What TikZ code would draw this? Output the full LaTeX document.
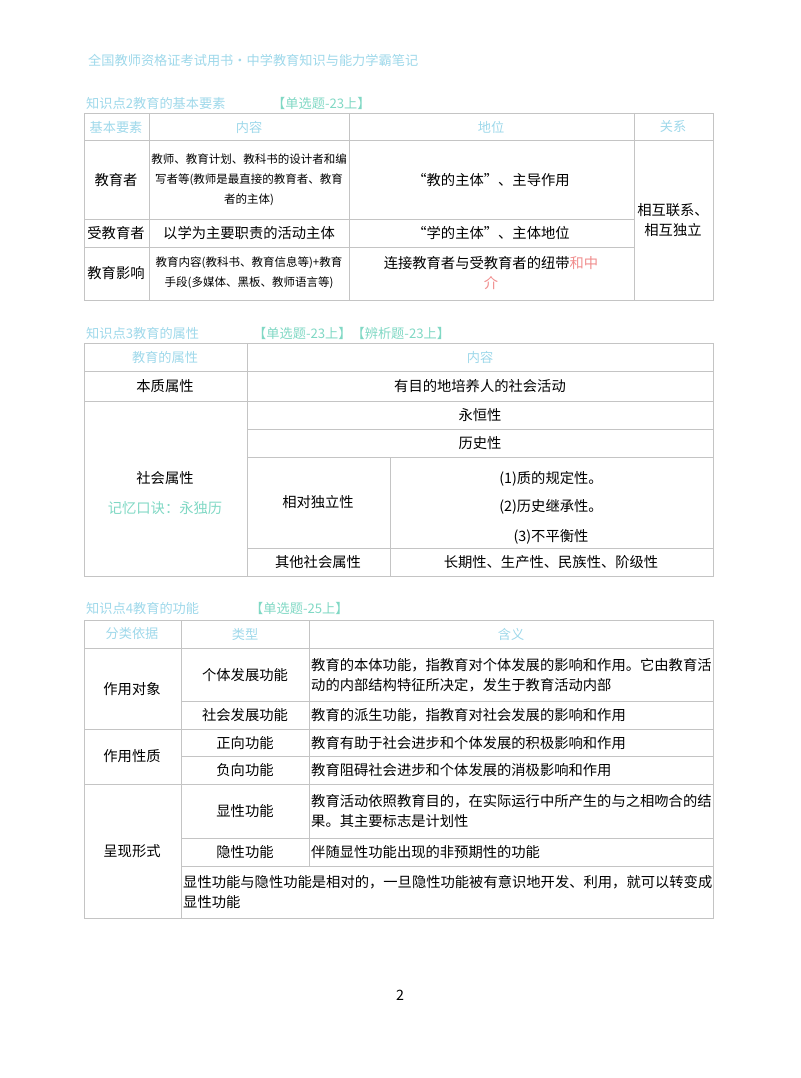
\documentclass[tikz,border=0pt]{standalone}
\usepackage{fontspec}
\setmainfont{Noto Sans CJK SC}
\usepackage{xcolor}
\definecolor{pale-blue}{HTML}{9ED8EA}
\definecolor{pale-teal}{HTML}{80D8C4}
\definecolor{rule-gray}{HTML}{C4C4C4}
\definecolor{soft-red}{HTML}{F08C8C}
\tikzset{grid/.style = {draw=rule-gray, line width=0.8pt}}
\tikzset{txt/.style = {font=\fontsize{14.3}{20}\selectfont, align=center, inner sep=0pt}}
\tikzset{narrow/.style = {font=\fontsize{11.5}{20}\selectfont, align=center, inner sep=0pt}}
\tikzset{head/.style = {font=\fontsize{13.2}{18}\selectfont, text=pale-blue, inner sep=0pt}}
\tikzset{tag/.style = {font=\fontsize{13.2}{18}\selectfont, text=pale-teal, inner sep=0pt, anchor=west}}
\tikzset{left cell/.style = {font=\fontsize{14.3}{20}\selectfont, align=left, inner sep=0pt, anchor=west}}

\begin{document}
\begin{tikzpicture}[x=1pt, y=-1pt]
\useasboundingbox (0,0) rectangle (800,1078);

\node[head, anchor=west] (top) at (88,60) {全国教师资格证考试用书·中学教育知识与能力学霸笔记};

% table 1
\node[head, anchor=west] (t1) at (86,103) {知识点2教育的基本要素};
\node[tag] (t1tag) at (272,103) {【单选题-23上】};
\draw[grid] (84,113) rectangle (713,300);
\draw[grid] (149,113) -- (149,300) (349,113) -- (349,300) (634,113) -- (634,300);
\draw[grid] (84,140) -- (713,140) (84,219) -- (634,219) (84,247) -- (634,247);
\node[head] (h11) at (116,127) {基本要素};
\node[head] (h12) at (249,127) {内容};
\node[head] (h13) at (491,127) {地位};
\node[head] (h14) at (673,127) {关系};
\node[txt] (a1) at (116,180) {教育者};
\node[narrow] (a2) at (249,180) {教师、教育计划、教科书的设计者和编\\写者等(教师是最直接的教育者、教育\\者的主体)};
\node[txt] (a3) at (491,180) {“教的主体”、主导作用};
\node[txt] (b1) at (116,233) {受教育者};
\node[txt] (b2) at (249,233) {以学为主要职责的活动主体};
\node[txt] (b3) at (491,233) {“学的主体”、主体地位};
\node[txt] (c1) at (116,273) {教育影响};
\node[narrow] (c2) at (249,273) {教育内容(教科书、教育信息等)+教育\\手段(多媒体、黑板、教师语言等)};
\node[txt] (c3) at (491,273) {连接教育者与受教育者的纽带\textcolor{soft-red}{和中}\\\textcolor{soft-red}{介}};
\node[txt] (rel) at (673,220) {相互联系、\\相互独立};

% table 2
\node[head, anchor=west] (t2) at (86,333) {知识点3教育的属性};
\node[tag] (t2tag) at (253,333) {【单选题-23上】【辨析题-23上】};
\draw[grid] (84,343) rectangle (713,576);
\draw[grid] (247,343) -- (247,576) (390,457) -- (390,576);
\draw[grid] (84,371) -- (713,371) (84,401) -- (713,401);
\draw[grid] (247,429) -- (713,429) (247,457) -- (713,457) (247,548) -- (713,548);
\node[head] (h21) at (165,357) {教育的属性};
\node[head] (h22) at (480,357) {内容};
\node[txt] (p1) at (165,386) {本质属性};
\node[txt] (p2) at (480,386) {有目的地培养人的社会活动};
\node[txt] (s1) at (165,478) {社会属性};
\node[txt, text=pale-teal] (s2) at (165,508) {记忆口诀：永独历};
\node[txt] (s3) at (480,415) {永恒性};
\node[txt] (s4) at (480,443) {历史性};
\node[txt] (s5) at (318,502) {相对独立性};
\node[txt] (s6) at (551,479) {(1)质的规定性。};
\node[txt] (s7) at (551,507) {(2)历史继承性。};
\node[txt] (s8) at (551,537) {(3)不平衡性};
\node[txt] (s9) at (318,562) {其他社会属性};
\node[txt] (s10) at (551,562) {长期性、生产性、民族性、阶级性};

% table 3
\node[head, anchor=west] (t3) at (86,608) {知识点4教育的功能};
\node[tag] (t3tag) at (250,608) {【单选题-25上】};
\draw[grid] (84,620) rectangle (713,918);
\draw[grid] (181,620) -- (181,918) (309,620) -- (309,866);
\draw[grid] (84,648) -- (713,648) (181,701) -- (713,701) (84,729) -- (713,729);
\draw[grid] (181,756) -- (713,756) (84,784) -- (713,784) (181,838) -- (713,838) (181,866) -- (713,866);
\node[head] (h31) at (132,634) {分类依据};
\node[head] (h32) at (245,634) {类型};
\node[head] (h33) at (511,634) {含义};
\node[txt] (g1) at (132,689) {作用对象};
\node[txt] (g2) at (132,756) {作用性质};
\node[txt] (g3) at (132,851) {呈现形式};
\node[txt] (k1) at (245,675) {个体发展功能};
\node[txt] (k2) at (245,715) {社会发展功能};
\node[txt] (k3) at (245,743) {正向功能};
\node[txt] (k4) at (245,770) {负向功能};
\node[txt] (k5) at (245,811) {显性功能};
\node[txt] (k6) at (245,852) {隐性功能};
\node[left cell] (m1) at (311,675) {教育的本体功能，指教育对个体发展的影响和作用。它由教育活\\动的内部结构特征所决定，发生于教育活动内部};
\node[left cell] (m2) at (311,715) {教育的派生功能，指教育对社会发展的影响和作用};
\node[left cell] (m3) at (311,743) {教育有助于社会进步和个体发展的积极影响和作用};
\node[left cell] (m4) at (311,770) {教育阻碍社会进步和个体发展的消极影响和作用};
\node[left cell] (m5) at (311,811) {教育活动依照教育目的，在实际运行中所产生的与之相吻合的结\\果。其主要标志是计划性};
\node[left cell] (m6) at (311,852) {伴随显性功能出现的非预期性的功能};
\node[left cell] (note) at (183,892) {显性功能与隐性功能是相对的，一旦隐性功能被有意识地开发、利用，就可以转变成\\显性功能};

\node[txt] (page) at (400,995) {2};
\end{tikzpicture}
\end{document}
